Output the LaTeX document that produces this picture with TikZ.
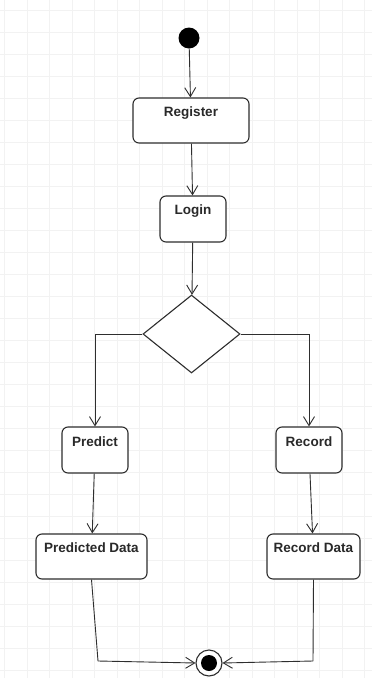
\documentclass[tikz,border=0pt]{standalone}
\usepackage{fontspec}
\setmainfont{Liberation Sans}
\usetikzlibrary{shapes.geometric,arrows.meta}
\definecolor{ink}{HTML}{2E2E2E}
\definecolor{gridc}{HTML}{F2F2F2}
\tikzset{
  act/.style={draw=ink, line width=1.1pt, rounded corners=6pt, fill=white, inner sep=0pt},
  lbl/.style={font=\bfseries\fontsize{13.5}{15}\selectfont, text=ink!90!black, inner sep=0pt},
  flow/.style={draw=ink, line width=0.9pt, -{Straight Barb[length=9pt,width=11pt,line width=0.9pt]}},
  plain/.style={draw=ink, line width=0.9pt},
}
\begin{document}
\begin{tikzpicture}[x=1pt,y=-1pt]
\useasboundingbox (0,0) rectangle (372,678);
\fill[white] (0,0) rectangle (372,678);
\foreach \k in {0,...,16} {\draw[gridc, line width=0.7pt] (4.5+22.5*\k,0) -- (4.5+22.5*\k,678);}
\foreach \k in {0,...,30} {\draw[gridc, line width=0.7pt] (0,10+22*\k) -- (372,10+22*\k);}

\node[circle, fill=black, minimum size=21pt, inner sep=0pt] (start) at (189,38) {};

\node[act, minimum width=116pt, minimum height=45pt] (reg) at (191,120.5) {};
\node[lbl] (regt) at (191,113) {Register};

\node[act, minimum width=66pt, minimum height=46pt] (login) at (193,219) {};
\node[lbl] (logint) at (193,211) {Login};

\node[draw=ink, line width=1.1pt, diamond, minimum width=97pt, minimum height=78pt, inner sep=0pt, fill=white] (dia) at (191.5,334) {};

\node[act, minimum width=66pt, minimum height=46pt] (pred) at (95,450) {};
\node[lbl] (predt) at (95,442) {Predict};

\node[act, minimum width=66pt, minimum height=46pt] (rec) at (309,450) {};
\node[lbl] (rect) at (309,442) {Record};

\node[act, minimum width=111pt, minimum height=45pt] (pdata) at (91.5,556.5) {};
\node[lbl] (pdatat) at (91.5,548) {Predicted Data};

\node[act, minimum width=93pt, minimum height=45pt] (rdata) at (313.5,556.5) {};
\node[lbl] (rdatat) at (313.5,548) {Record Data};

\node[circle, draw=ink, line width=1.1pt, fill=white, minimum size=26pt, inner sep=0pt] (endo) at (209,663) {};
\node[circle, fill=black, minimum size=16pt, inner sep=0pt] (endi) at (209,663) {};

\draw[flow] (start) -- (reg);
\draw[flow] (reg) -- (login);
\draw[flow] (login) -- (dia);
\draw[flow] (dia.west) -| (pred.north);
\draw[flow] (dia.east) -| (rec.north);
\draw[flow] (pred) -- (pdata);
\draw[flow] (rec) -- (rdata);
\coordinate (pc) at (98,661);
\coordinate (rc) at (313,661);
\draw[plain] (pdata.south) -- (pc);
\draw[flow] (pc) -- (endo.west);
\draw[plain] (rdata.south) -- (rc);
\draw[flow] (rc) -- (endo.east);
\end{tikzpicture}
\end{document}
